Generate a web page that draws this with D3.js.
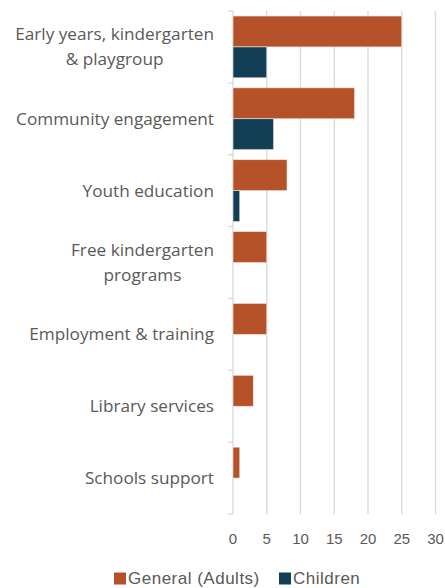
<!DOCTYPE html>
<html>
<head>
<meta charset="utf-8">
<script src="https://cdn.jsdelivr.net/npm/d3@7"></script>
<style>
  html, body { margin: 0; padding: 0; background: #fff; }
  svg { display: block; }
</style>
</head>
<body>
<svg id="chart" width="445" height="588"></svg>
<script>
// Services and the number of sessions by audience
const categories = [
  ["Early years, kindergarten", "& playgroup"],
  ["Community engagement"],
  ["Youth education"],
  ["Free kindergarten", "programs"],
  ["Employment & training"],
  ["Library services"],
  ["Schools support"]
];
const seriesNames = ["General (Adults)", "Children"];
const adults = [25, 18, 8, 5, 5, 3, 1];
const children = [5, 6, 1, 0, 0, 0, 0];
const xTicks = [0, 5, 10, 15, 20, 25, 30];
const colors = ["#B5522A", "#123F56"];

const svg = d3.select("#chart");
const margin = { left: 233, top: 11 };
const plotRight = 435.5;
const plotBottom = 514;

const x = d3.scaleLinear().domain([0, 30]).range([margin.left, plotRight]);
const y = d3.scaleBand()
  .domain(d3.range(categories.length))
  .range([margin.top, plotBottom])
  .paddingInner(0.14)
  .paddingOuter(0.07);
const ySub = d3.scaleBand().domain([0, 1]).range([0, y.bandwidth()]);

const labelFont = "'Open Sans', 'Noto Sans', sans-serif";
const tickFont = "'Liberation Sans', Arial, sans-serif";
const textColor = "#595959";
const gridColor = "#d9d9d9";

// vertical gridlines
svg.append("g")
  .selectAll("line")
  .data(xTicks.slice(1))
  .join("line")
  .attr("x1", d => x(d)).attr("x2", d => x(d))
  .attr("y1", margin.top).attr("y2", plotBottom)
  .attr("stroke", gridColor).attr("stroke-width", 1.3);

// category axis with tick marks between groups
const bandStep = (plotBottom - margin.top) / categories.length;
const yAxis = svg.append("g");
yAxis.append("line")
  .attr("x1", x(0)).attr("x2", x(0))
  .attr("y1", margin.top).attr("y2", plotBottom)
  .attr("stroke", gridColor).attr("stroke-width", 1.3);
yAxis.selectAll("line.tick")
  .data(d3.range(categories.length + 1))
  .join("line").attr("class", "tick")
  .attr("x1", x(0) - 5).attr("x2", x(0))
  .attr("y1", i => margin.top + i * bandStep)
  .attr("y2", i => margin.top + i * bandStep)
  .attr("stroke", gridColor).attr("stroke-width", 1.3);

// bars
const groups = svg.append("g").selectAll("g")
  .data(categories.map((c, i) => ({ i, vals: [adults[i], children[i]] })))
  .join("g")
  .attr("transform", d => `translate(0,${y(d.i)})`);

groups.selectAll("rect")
  .data(d => d.vals.map((v, s) => ({ v, s })).filter(e => e.v > 0))
  .join("rect")
  .attr("x", x(0))
  .attr("y", d => ySub(d.s))
  .attr("width", d => x(d.v) - x(0))
  .attr("height", ySub.bandwidth())
  .attr("fill", d => colors[d.s])
  .attr("stroke", "#f3e3dc")
  .attr("stroke-width", 0.6);

// category labels (multi-line blocks, lines centred within the block)
const labelRight = 214;
categories.forEach((lines, i) => {
  const cy = y(i) + y.bandwidth() / 2;
  const lh = 25;
  const g = svg.append("g");
  const texts = lines.map((t, k) => g.append("text")
    .attr("y", cy + (k - (lines.length - 1) / 2) * lh)
    .attr("dy", "0.35em")
    .attr("font-family", labelFont)
    .attr("font-size", 17.2)
    .attr("fill", textColor)
    .attr("text-anchor", "middle")
    .text(t));
  const maxW = d3.max(texts, t => t.node().getComputedTextLength());
  texts.forEach(t => t.attr("x", labelRight - maxW / 2));
});

// value axis tick labels
svg.append("g").selectAll("text")
  .data(xTicks)
  .join("text")
  .attr("x", d => x(d))
  .attr("y", 539)
  .attr("dy", "0.35em")
  .attr("text-anchor", "middle")
  .attr("font-family", tickFont)
  .attr("font-size", 15)
  .attr("fill", textColor)
  .text(d => d);

// legend
const legendY = 578.5;
const legendX = [114, 279];
const items = svg.append("g").selectAll("g")
  .data(seriesNames)
  .join("g")
  .attr("transform", (d, i) => `translate(${legendX[i]},0)`);
items.append("rect")
  .attr("width", 12).attr("height", 12)
  .attr("y", legendY - 6)
  .attr("fill", (d, i) => colors[i]);
items.append("text")
  .attr("x", 14)
  .attr("y", legendY)
  .attr("dy", "0.35em")
  .attr("font-family", tickFont)
  .attr("font-size", 17)
  .attr("letter-spacing", 0.5)
  .attr("fill", textColor)
  .text(d => d);
</script>
</body>
</html>
